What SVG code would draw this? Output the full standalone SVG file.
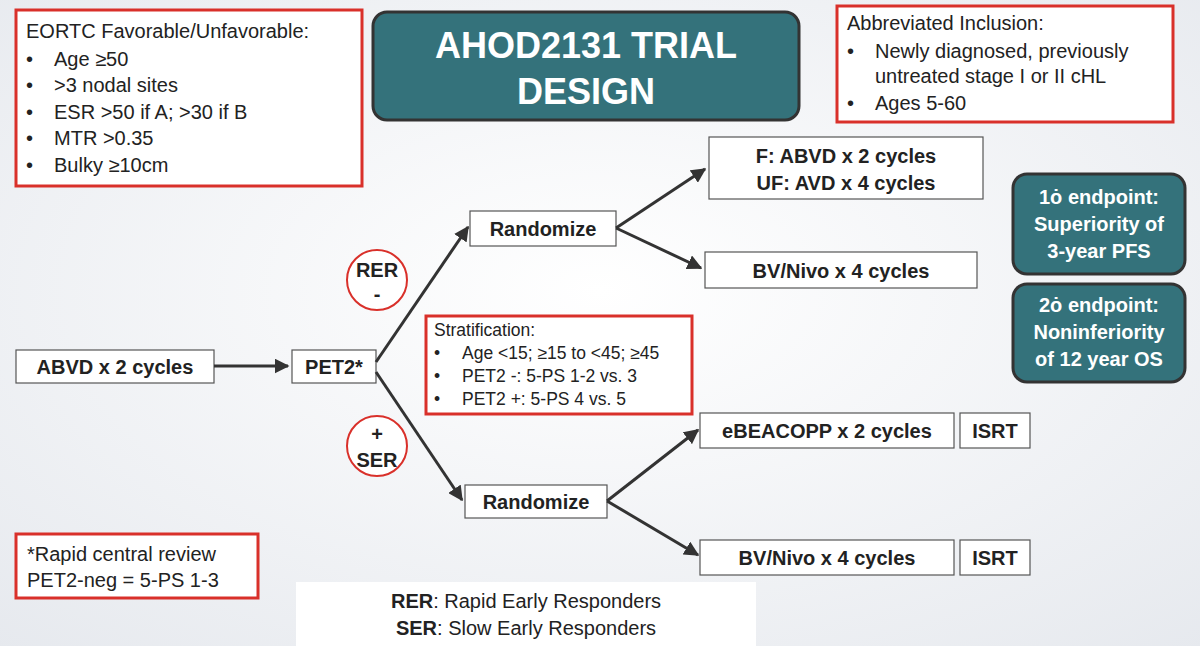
<svg xmlns="http://www.w3.org/2000/svg" width="1200" height="646" viewBox="0 0 1200 646">
<defs>
<radialGradient id="bg" cx="0.5" cy="0.45" r="0.75"><stop offset="0" stop-color="#ffffff"/><stop offset="1" stop-color="#e6e9ee"/></radialGradient>
<marker id="ah" viewBox="0 0 10 10" refX="9" refY="5" markerWidth="5" markerHeight="5" orient="auto"><path d="M0,0 L10,5 L0,10 Z" fill="#333"/></marker>
<style>
text{font-family:"Liberation Sans",Arial,sans-serif;fill:#222}
.red{fill:#fff;stroke:#d9302a;stroke-width:3}
.box{fill:#fff;stroke:#555;stroke-width:1.2}
.b{font-weight:bold;font-size:20px}
.t{font-size:20px}
.s{font-size:17.5px}
.teal{fill:#34727b;stroke:#333;stroke-width:3}
.w{fill:#fff;font-weight:bold}
.circ{fill:#fff;stroke:#d9302a;stroke-width:2}
.c{stroke:#333;stroke-width:3;fill:none;marker-end:url(#ah)}
</style>
</defs>
<rect width="1200" height="646" fill="url(#bg)"/>
<g id="eortc"><rect class="red" x="16" y="10" width="346" height="176"/>
<text class="t" x="26" y="38">EORTC Favorable/Unfavorable:</text>
<text class="t" x="26" y="66">•<tspan x="54">Age ≥50</tspan></text>
<text class="t" x="26" y="92">•<tspan x="54">&gt;3 nodal sites</tspan></text>
<text class="t" x="26" y="119">•<tspan x="54">ESR &gt;50 if A; &gt;30 if B</tspan></text>
<text class="t" x="26" y="145">•<tspan x="54">MTR &gt;0.35</tspan></text>
<text class="t" x="26" y="172">•<tspan x="54">Bulky ≥10cm</tspan></text></g>
<g id="title"><rect class="teal" x="373" y="12" width="426" height="108" rx="14"/>
<text class="w" x="586" y="58" font-size="36" text-anchor="middle">AHOD2131 TRIAL</text>
<text class="w" x="586" y="104" font-size="36" text-anchor="middle">DESIGN</text></g>
<g id="inclusion"><rect class="red" x="837" y="6" width="336" height="116"/>
<text class="t" x="847" y="30">Abbreviated Inclusion:</text>
<text class="t" x="847" y="58">•<tspan x="875">Newly diagnosed, previously</tspan></text>
<text class="t" x="875" y="83">untreated stage I or II cHL</text>
<text class="t" x="847" y="110">•<tspan x="875">Ages 5-60</tspan></text></g>
<g id="abvd"><rect class="box" x="16" y="350" width="198" height="33"/><text class="b" x="115" y="374" text-anchor="middle">ABVD x 2 cycles</text></g>
<g id="pet2"><rect class="box" x="292" y="350" width="84" height="33"/><text class="b" x="334" y="374" text-anchor="middle">PET2*</text></g>
<g id="rand1"><rect class="box" x="470" y="211" width="146" height="35"/><text class="b" x="543" y="236" text-anchor="middle">Randomize</text></g>
<g id="rand2"><rect class="box" x="465" y="485" width="142" height="33"/><text class="b" x="536" y="509" text-anchor="middle">Randomize</text></g>
<g id="fuf"><rect class="box" x="709" y="137" width="274" height="62"/><text class="b" x="846" y="163" text-anchor="middle">F: ABVD x 2 cycles</text><text class="b" x="846" y="190" text-anchor="middle">UF: AVD x 4 cycles</text></g>
<g id="bv1"><rect class="box" x="705" y="252" width="272" height="36"/><text class="b" x="841" y="278" text-anchor="middle">BV/Nivo x 4 cycles</text></g>
<g id="ebea"><rect class="box" x="700" y="413" width="254" height="35"/><text class="b" x="827" y="438" text-anchor="middle">eBEACOPP x 2 cycles</text></g>
<g id="isrt1"><rect class="box" x="960" y="413" width="70" height="35"/><text class="b" x="995" y="438" text-anchor="middle">ISRT</text></g>
<g id="bv2"><rect class="box" x="700" y="540" width="254" height="35"/><text class="b" x="827" y="565" text-anchor="middle">BV/Nivo x 4 cycles</text></g>
<g id="isrt2"><rect class="box" x="960" y="540" width="70" height="35"/><text class="b" x="995" y="565" text-anchor="middle">ISRT</text></g>
<g id="strat"><rect class="red" x="426" y="316" width="266" height="98"/>
<text class="s" x="434" y="336">Stratification:</text>
<text class="s" x="434" y="359">•<tspan x="462">Age &lt;15; ≥15 to &lt;45; ≥45</tspan></text>
<text class="s" x="434" y="382">•<tspan x="462">PET2 -: 5-PS 1-2 vs. 3</tspan></text>
<text class="s" x="434" y="405">•<tspan x="462">PET2 +: 5-PS 4 vs. 5</tspan></text></g>
<g id="rer"><circle class="circ" cx="377" cy="280" r="30"/><text class="b" x="377" y="277" text-anchor="middle">RER</text><text class="b" x="377" y="301" text-anchor="middle">-</text></g>
<g id="ser"><circle class="circ" cx="377" cy="446" r="30"/><text class="b" x="377" y="441" text-anchor="middle">+</text><text class="b" x="377" y="467" text-anchor="middle">SER</text></g>
<g id="ep1"><rect class="teal" x="1013" y="174" width="172" height="100" rx="14"/>
<text class="w" x="1099" y="204" font-size="20" text-anchor="middle">1ȯ endpoint:</text>
<text class="w" x="1099" y="231" font-size="20" text-anchor="middle">Superiority of</text>
<text class="w" x="1099" y="258" font-size="20" text-anchor="middle">3-year PFS</text></g>
<g id="ep2"><rect class="teal" x="1013" y="284" width="172" height="98" rx="14"/>
<text class="w" x="1099" y="312" font-size="20" text-anchor="middle">2ȯ endpoint:</text>
<text class="w" x="1099" y="339" font-size="20" text-anchor="middle">Noninferiority</text>
<text class="w" x="1099" y="366" font-size="20" text-anchor="middle">of 12 year OS</text></g>
<g id="note"><rect class="red" x="16" y="534" width="242" height="64"/>
<text class="t" x="27" y="561">*Rapid central review</text>
<text class="t" x="27" y="587">PET2-neg = 5-PS 1-3</text></g>
<g id="legend"><rect x="296" y="582" width="460" height="64" fill="#fff"/>
<text class="t" x="526" y="608" text-anchor="middle"><tspan font-weight="bold">RER</tspan>: Rapid Early Responders</text>
<text class="t" x="526" y="635" text-anchor="middle"><tspan font-weight="bold">SER</tspan>: Slow Early Responders</text></g>
<g id="connectors">
<path class="c" d="M214,366 L288,366"/>
<path class="c" d="M376,362 L468,227"/>
<path class="c" d="M376,372 L462,500"/>
<path class="c" d="M616,228 L705,169"/>
<path class="c" d="M616,228 L701,268"/>
<path class="c" d="M607,501 L698,430"/>
<path class="c" d="M607,501 L698,555"/>
</g>
</svg>
